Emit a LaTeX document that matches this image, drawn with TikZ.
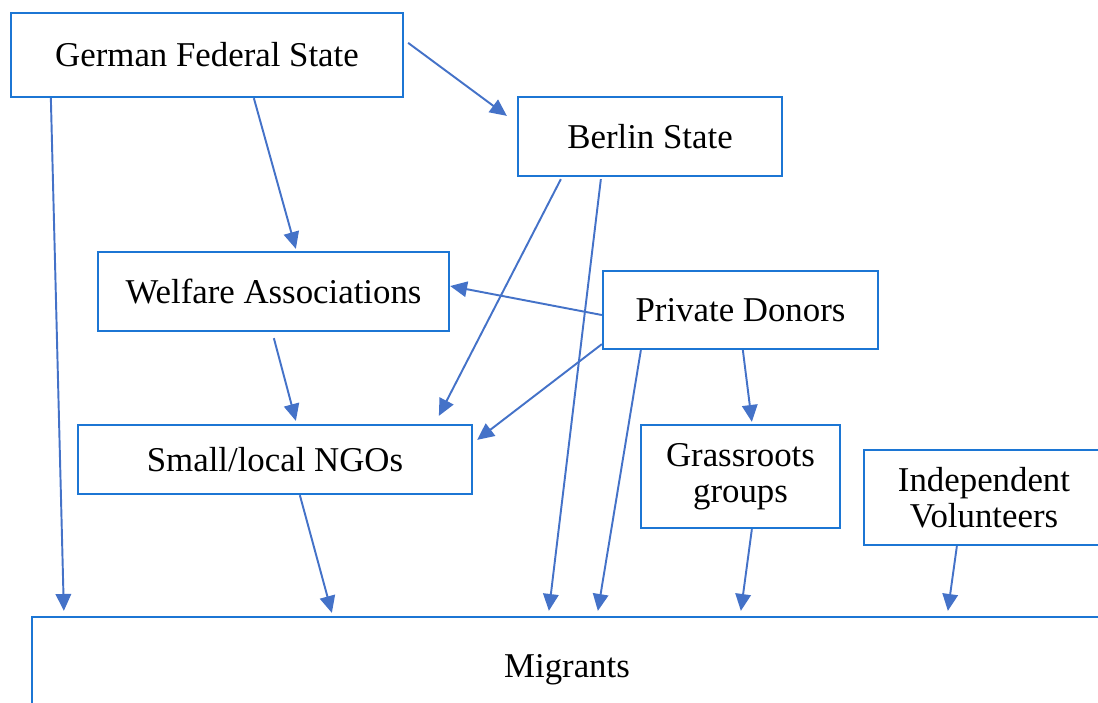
\documentclass[tikz,border=0pt]{standalone}
\usepackage{fontspec}
\setmainfont{Liberation Serif}
\usepackage{tikz}
\usetikzlibrary{arrows.meta, calc}
\definecolor{boxBlue}{RGB}{28, 118, 212}
\definecolor{flowBlue}{RGB}{68, 114, 200}

\begin{document}
\begin{tikzpicture}[
  x=0.01cm, y=-0.01cm,
  actor/.style={rectangle, draw=boxBlue, line width=0.65pt, fill=white, inner sep=0pt,
                align=center, font=\fontsize{9.9}{10.4}\selectfont},
  flow/.style={-{Triangle[length=4.8pt, width=4.4pt]}, line width=0.55pt, flowBlue}
]
  \clip (0,0) rectangle (1098,702);

  % Acteurs
  \node[actor, minimum width=392*0.01cm, minimum height=84*0.01cm] (gfs)     at (207,55)    {German Federal State};
  \node[actor, minimum width=264*0.01cm, minimum height=79*0.01cm] (berlin)  at (650,136.5) {Berlin State};
  \node[actor, minimum width=351*0.01cm, minimum height=79*0.01cm] (welfare) at (273.5,291.5) {Welfare Associations};
  \node[actor, minimum width=275*0.01cm, minimum height=78*0.01cm] (donors)  at (740.5,310) {Private Donors};
  \node[actor, minimum width=394*0.01cm, minimum height=69*0.01cm] (ngos)    at (275,459.5) {Small/local NGOs};
  \node[actor, minimum width=199*0.01cm, minimum height=103*0.01cm] (grass)  at (740.5,476.5) {Grassroots\\groups};
  \node[actor, minimum width=240*0.01cm, minimum height=95*0.01cm] (indep)   at (984,497.5) {Independent\\Volunteers};
  \node[actor, minimum width=1070*0.01cm, minimum height=106*0.01cm] (mig)   at (567,670)   {Migrants};

  % Flux depuis l'Etat fédéral
  \draw[flow] ($(gfs.south west)+(41,0)$)  -- ($(mig.north west)+(33,-5)$);
  \draw[flow] ($(gfs.south west)+(244,0)$) -- ($(welfare.north west)+(199,-2)$);
  \draw[flow] ($(gfs.north east)+(4,31)$)  -- ($(berlin.north west)+(-10,20)$);

  % Flux depuis Berlin
  \draw[flow] ($(berlin.south west)+(44,2)$) -- ($(ngos.north west)+(362,-8)$);
  \draw[flow] ($(berlin.south west)+(84,2)$) -- ($(mig.north west)+(518,-5)$);

  % Flux depuis les donateurs
  \draw[flow] ($(donors.west)+(0,5)$)         -- ($(welfare.east)+(0,-5.5)$);
  \draw[flow] ($(donors.south west)+(0,-6)$)  -- ($(ngos.north east)+(4,16)$);
  \draw[flow] ($(donors.south west)+(39,0)$)  -- ($(mig.north west)+(567,-5)$);
  \draw[flow] ($(donors.south west)+(141,0)$) -- ($(grass.north west)+(112,-2)$);

  % Flux vers les migrants
  \draw[flow] ($(welfare.south west)+(177,6)$) -- ($(ngos.north west)+(219,-3)$);
  \draw[flow] ($(ngos.south west)+(223,0)$)    -- ($(mig.north west)+(301,-3)$);
  \draw[flow] ($(grass.south west)+(112,0)$)   -- ($(mig.north west)+(710,-5)$);
  \draw[flow] ($(indep.south west)+(94,0)$)    -- ($(mig.north west)+(917,-5)$);
\end{tikzpicture}
\end{document}
